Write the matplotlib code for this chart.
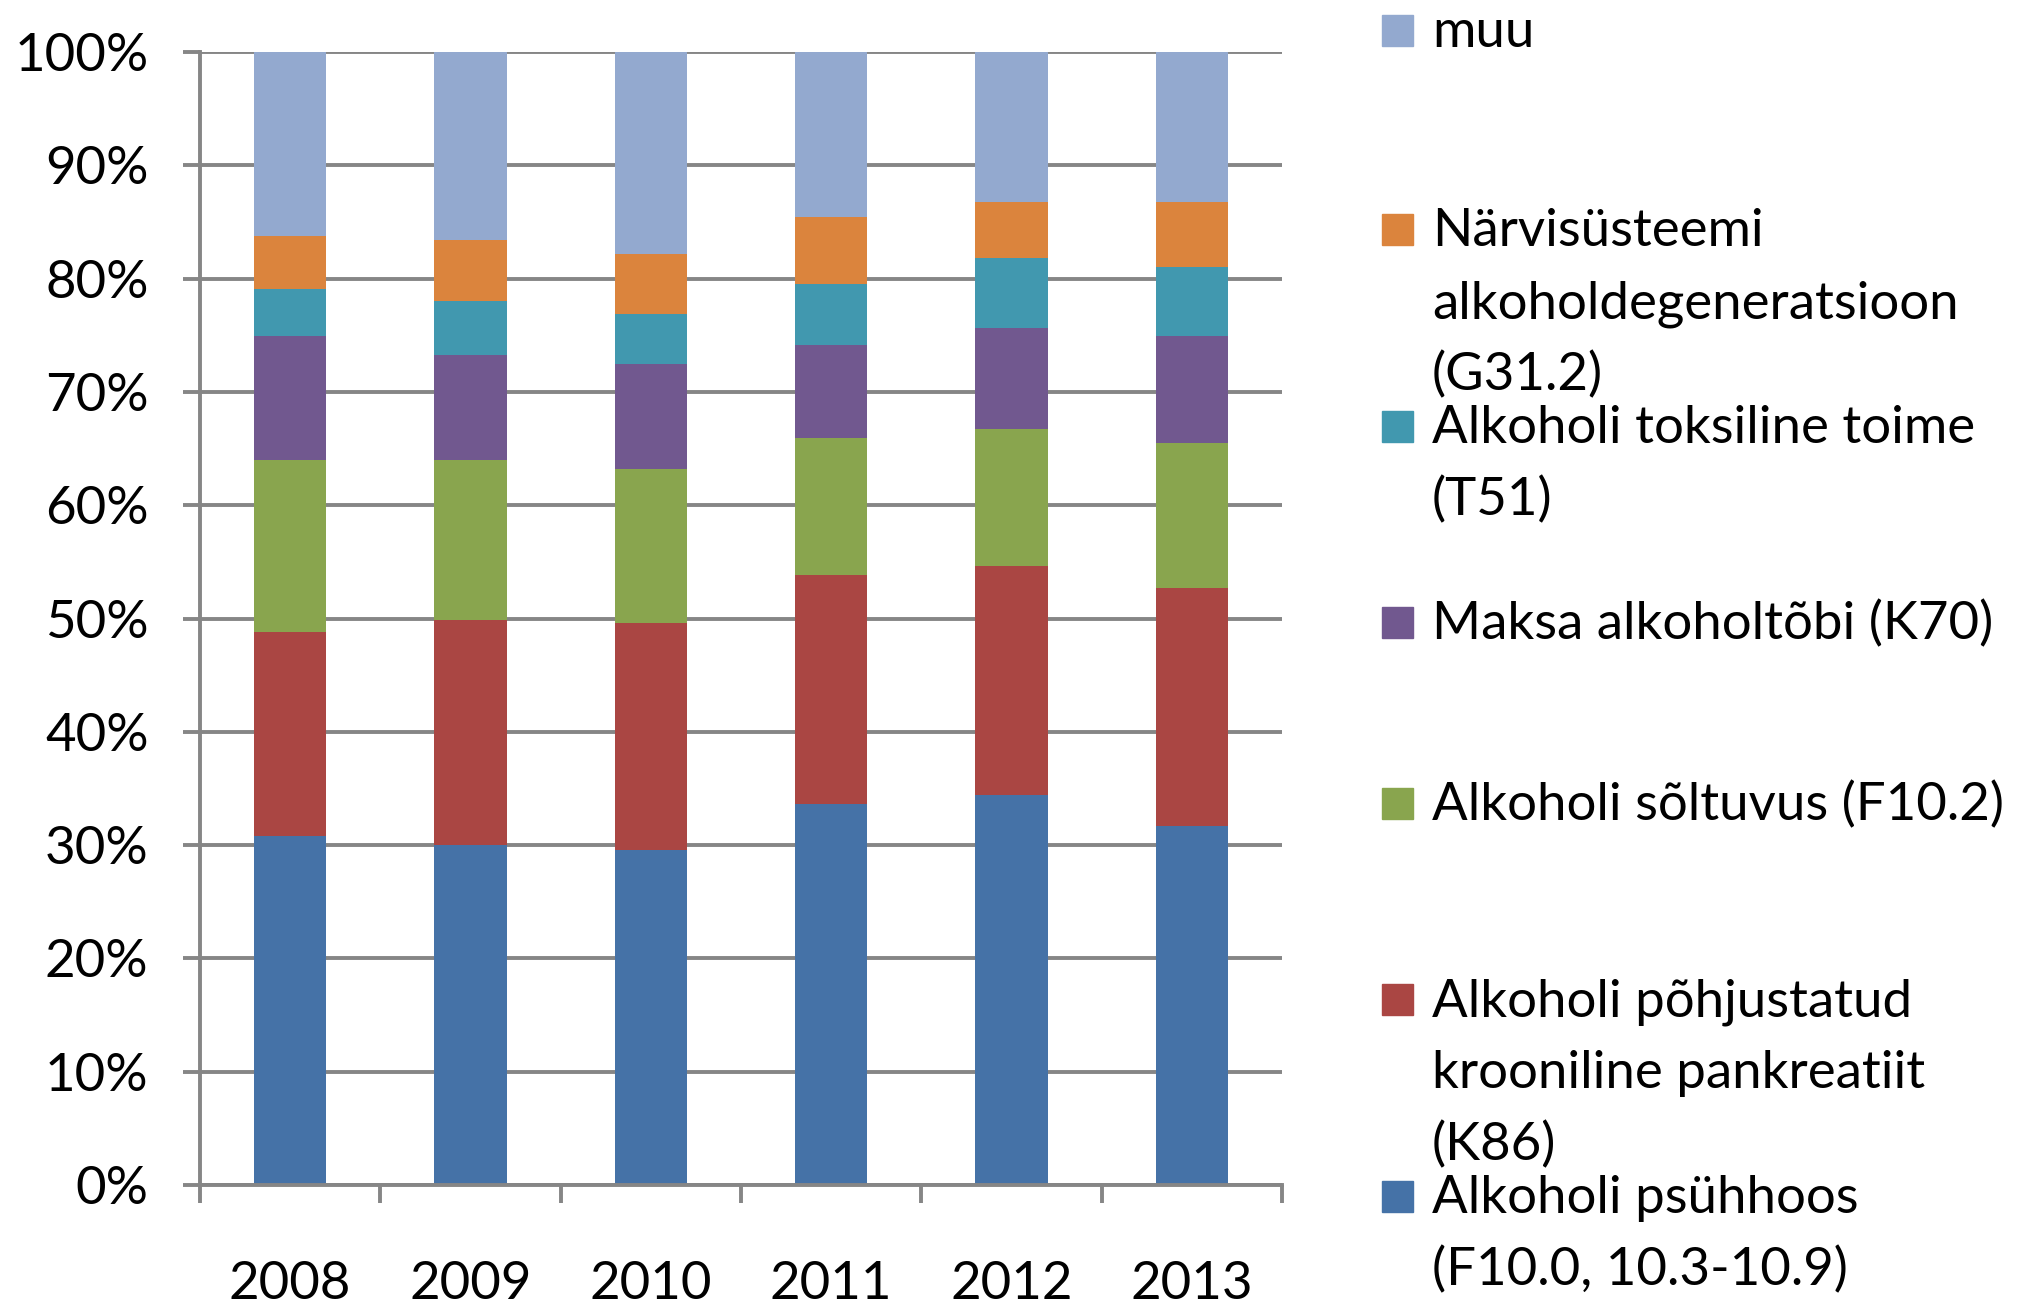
import matplotlib.pyplot as plt
from matplotlib.patches import Rectangle
import numpy as np

plt.rcParams['font.family'] = ['Lato', 'DejaVu Sans']

# share of each cause per year, % (bottom to top of the stack)
years = ['2008', '2009', '2010', '2011', '2012', '2013']
psyhhoos = [30.8, 30.0, 29.6, 33.6, 34.4, 31.7]
pankreatiit = [18.0, 19.9, 20.0, 20.2, 20.2, 21.0]
soltuvus = [15.2, 14.1, 13.6, 12.1, 12.1, 12.8]
maksa = [10.9, 9.3, 9.3, 8.2, 8.9, 9.4]
toksiline = [4.2, 4.7, 4.4, 5.4, 6.2, 6.1]
narvisusteemi = [4.7, 5.4, 5.3, 5.9, 5.0, 5.8]
muu = [16.2, 16.6, 17.8, 14.6, 13.2, 13.2]

series_labels = [
    'Alkoholi psühhoos\n(F10.0, 10.3-10.9)',
    'Alkoholi põhjustatud\nkrooniline pankreatiit\n(K86)',
    'Alkoholi sõltuvus (F10.2)',
    'Maksa alkoholtõbi (K70)',
    'Alkoholi toksiline toime\n(T51)',
    'Närvisüsteemi\nalkoholdegeneratsioon\n(G31.2)',
    'muu',
]
ytick_labels = ['0%', '10%', '20%', '30%', '40%', '50%', '60%', '70%', '80%', '90%', '100%']

colors = ['#4572A7', '#AA4643', '#89A54E', '#71588F', '#4198AF', '#DB843D', '#93A9CF']
grey = '#868686'
fs = 38

W, H = 2022, 1306
fig = plt.figure(figsize=(W / 100, H / 100), dpi=100)
ax = fig.add_axes([200 / W, 121 / H, 1082 / W, 1133 / H])

series = [psyhhoos, pankreatiit, soltuvus, maksa, toksiline, narvisusteemi, muu]
x = np.arange(len(years))
bottom = np.zeros(len(years))
for vals, col, lab in zip(series, colors, series_labels):
    ax.bar(x, vals, width=0.4, bottom=bottom, color=col, label=lab, zorder=1)
    bottom += np.array(vals)

ax.set_xlim(-0.5, len(years) - 0.5)
ax.set_ylim(0, 100)

# axes styling, Excel look
for s in ['top', 'right']:
    ax.spines[s].set_visible(False)
for s in ['left', 'bottom']:
    ax.spines[s].set_color(grey)
    ax.spines[s].set_linewidth(2.8)
    ax.spines[s].set_zorder(3)

ax.set_axisbelow(True)
ax.yaxis.grid(True, color=grey, linewidth=2.8)

ax.set_yticks(np.arange(0, 101, 10))
ax.set_yticklabels(ytick_labels)
ax.tick_params(axis='y', length=12, width=2.8, color=grey, pad=25, labelsize=fs)

ax.set_xticks(x)
ax.set_xticklabels(years)
ax.set_xticks(np.arange(-0.5, len(years), 1), minor=True)
ax.tick_params(axis='x', which='major', length=0, pad=55, labelsize=fs)
ax.tick_params(axis='x', which='minor', length=13, width=2.8, color=grey)

# legend drawn by hand so the box lines up with the first text line
legend_y = [30, 229, 426, 622, 803, 999, 1196]  # px from top, box centres
for yc, col, lab in zip(legend_y, colors[::-1], series_labels[::-1]):
    fig.add_artist(Rectangle((1382 / W, 1 - (yc + 15.5) / H), 31 / W, 31 / H,
                             transform=fig.transFigure, color=col))
    for i, line in enumerate(lab.split('\n')):
        fig.text(1432 / W, 1 - (yc + 17 + 72 * i) / H, line,
                 fontsize=fs, va='baseline', ha='left')

fig.savefig('out.png', dpi=100)
